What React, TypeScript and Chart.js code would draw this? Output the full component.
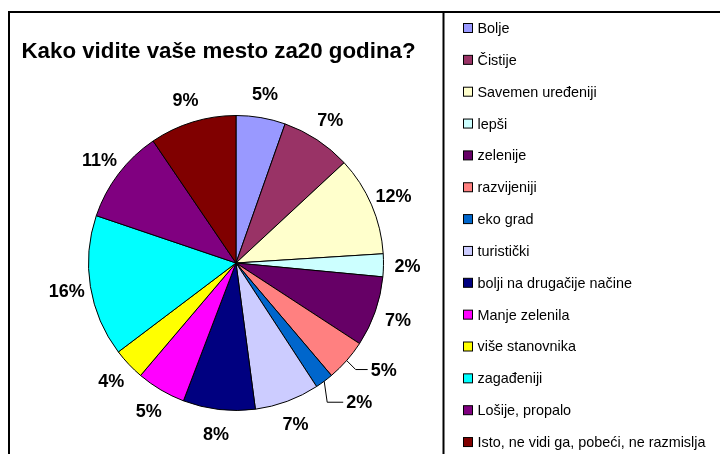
import React, { useEffect, useRef } from "react";
import { Chart, registerables } from "chart.js";

Chart.register(...registerables);

const titleText = "Kako vidite vaše mesto za20 godina?";

const categories = [
  "Bolje",
  "Čistije",
  "Savemen uređeniji",
  "lepši",
  "zelenije",
  "razvijeniji",
  "eko grad",
  "turistički",
  "bolji na drugačije načine",
  "Manje zelenila",
  "više stanovnika",
  "zagađeniji",
  "Lošije, propalo",
  "Isto, ne vidi ga, pobeći, ne razmislja",
];

const values = [5.4, 7.7, 10.9, 2.5, 7.7, 4.6, 2.0, 7.1, 7.9, 5.4, 3.5, 15.5, 10.3, 9.5];

const percentLabels = ["5%", "7%", "12%", "2%", "7%", "5%", "2%", "7%", "8%", "5%", "4%", "16%", "11%", "9%"];

const colors = [
  "#9999FF",
  "#993366",
  "#FFFFCC",
  "#CCFFFF",
  "#660066",
  "#FF8080",
  "#0066CC",
  "#CCCCFF",
  "#000080",
  "#FF00FF",
  "#FFFF00",
  "#00FFFF",
  "#800080",
  "#800000",
];

const FONT = "'Liberation Sans', Arial, sans-serif";

// leader-line elbows (offset from arc point) and horizontal run for small slices
const leaders: Record<number, [number, number, number]> = {
  5: [9, 9, 12],
  6: [3, 21, 16],
};

const decorPlugin = {
  id: "decor",
  beforeDraw(chart: any) {
    const ctx = chart.ctx;
    ctx.save();
    ctx.fillStyle = "#ffffff";
    ctx.fillRect(0, 0, chart.width, chart.height);
    ctx.strokeStyle = "#000000";
    ctx.lineWidth = 2;
    ctx.beginPath();
    ctx.moveTo(9, chart.height);
    ctx.lineTo(9, 12);
    ctx.lineTo(chart.width, 12);
    ctx.moveTo(443.5, 12);
    ctx.lineTo(443.5, chart.height);
    ctx.stroke();
    ctx.fillStyle = "#000000";
    ctx.font = `bold 22.3px ${FONT}`;
    ctx.textAlign = "left";
    ctx.textBaseline = "alphabetic";
    ctx.fillText(titleText, 21.5, 58);
    ctx.restore();
  },
  afterDatasetsDraw(chart: any) {
    const ctx = chart.ctx;
    const meta = chart.getDatasetMeta(0);
    ctx.save();
    ctx.fillStyle = "#000000";
    ctx.font = `bold 18px ${FONT}`;
    meta.data.forEach((arc: any, i: number) => {
      const { x, y, startAngle, endAngle, outerRadius } = arc.getProps(
        ["x", "y", "startAngle", "endAngle", "outerRadius"],
        true
      );
      const mid = (startAngle + endAngle) / 2;
      const txt = percentLabels[i];
      if (leaders[i]) {
        const ax = x + Math.cos(mid) * outerRadius;
        const ay = y + Math.sin(mid) * outerRadius;
        const [ox, oy, run] = leaders[i];
        const ex = ax + ox;
        const ey = ay + oy;
        ctx.strokeStyle = "#000000";
        ctx.lineWidth = 1;
        ctx.beginPath();
        ctx.moveTo(ax, ay);
        ctx.lineTo(ex, ey);
        ctx.lineTo(ex + run, ey);
        ctx.stroke();
        ctx.textAlign = "left";
        ctx.textBaseline = "middle";
        ctx.fillText(txt, ex + run + 3, ey + 1);
      } else {
        const d = outerRadius + 24;
        ctx.textAlign = "center";
        ctx.textBaseline = "middle";
        ctx.fillText(txt, x + Math.cos(mid) * d, y + Math.sin(mid) * d + 1.5);
      }
    });

    // legend
    const labels = chart.data.labels as string[];
    const bg = chart.data.datasets[0].backgroundColor as string[];
    ctx.font = `14.4px ${FONT}`;
    ctx.textAlign = "left";
    ctx.textBaseline = "middle";
    labels.forEach((lab, i) => {
      const cy = 28 + i * 31.85;
      ctx.fillStyle = bg[i];
      ctx.fillRect(463.5, cy - 4.5, 9, 9);
      ctx.strokeStyle = "#000000";
      ctx.lineWidth = 1;
      ctx.strokeRect(463.5, cy - 4.5, 9, 9);
      ctx.fillStyle = "#000000";
      ctx.fillText(lab, 477.5, cy + 1);
    });
    ctx.restore();
  },
};

export default function App() {
  const ref = useRef<HTMLCanvasElement | null>(null);
  useEffect(() => {
    if (!ref.current) return;
    const chart = new Chart(ref.current, {
      type: "pie",
      data: {
        labels: categories,
        datasets: [
          {
            data: values,
            backgroundColor: colors,
            borderColor: "#000000",
            borderWidth: 1,
            hoverOffset: 0,
          },
        ],
      },
      options: {
        responsive: false,
        animation: false,
        layout: { padding: { left: 88, right: 336, top: 115, bottom: 43 } },
        plugins: {
          legend: { display: false },
          title: { display: false },
          tooltip: { enabled: false },
        },
        events: [],
      },
      plugins: [decorPlugin],
    });
    return () => chart.destroy();
  }, []);
  return (
    <div style={{ position: "absolute", left: 0, top: 0, width: 720, height: 454 }}>
      <canvas ref={ref} width={720} height={454} style={{ width: 720, height: 454 }} />
    </div>
  );
}
